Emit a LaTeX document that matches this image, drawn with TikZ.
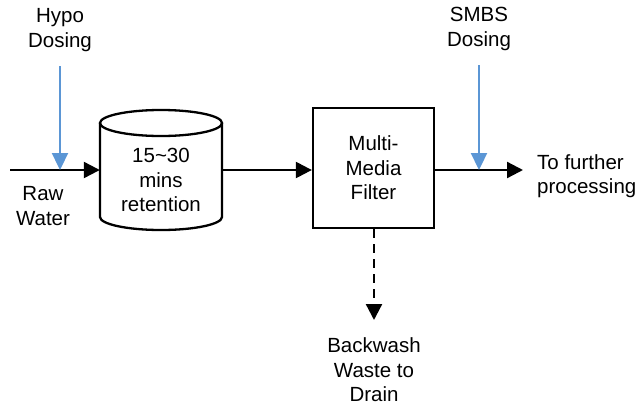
\documentclass[tikz,border=0pt]{standalone}
\usepackage{fontspec}
\setmainfont{Liberation Sans}
\usetikzlibrary{arrows.meta}
\definecolor{dosingblue}{RGB}{91,150,213}
\begin{document}
\begin{tikzpicture}[x=1pt,y=-1pt,
  flow/.style={line width=2.3pt,-{Triangle[length=16pt,width=16pt]}},
  dose/.style={draw=dosingblue,line width=2.3pt,-{Triangle[length=17pt,width=16pt]}},
  lbl/.style={font=\fontsize{20.5}{24.5}\selectfont,align=center,inner sep=0pt},
  unitbox/.style={draw,line width=2.3pt,minimum width=121pt,minimum height=120pt,inner sep=0pt}]
\useasboundingbox (0,0) rectangle (644,407);

% retention tank (cylinder) outline
\node[minimum width=122pt,minimum height=120pt,inner sep=0pt] (cyl) at (161,170) {};
\draw[line width=2.3pt] (161,123) ellipse [x radius=61pt, y radius=13pt];
\draw[line width=2.3pt] (100,123) -- (100,217)
  arc[start angle=180,end angle=360,x radius=61pt,y radius=13pt] -- (222,123);
\node[lbl] (cyltxt) at (161,180) {15\textasciitilde30\\mins\\retention};

% multi-media filter
\node[unitbox,lbl] (mmf) at (373.5,168) {Multi-\\Media\\Filter};

% labels
\node[lbl] (hypo) at (60,30) {Hypo\\Dosing};
\node[lbl] (smbs) at (479,29) {SMBS\\Dosing};
\node[lbl] (raw) at (43,206) {Raw\\Water};
\node[lbl,align=left,anchor=west] (further) at (537,176) {To further\\processing};
\node[lbl] (drain) at (374,370) {Backwash\\Waste to\\Drain};

% free ends of the connectors
\coordinate (rawin) at (10,170);
\coordinate (outend) at (523,170);
\coordinate (drainend) at (374,320);
\coordinate (hypotop) at (60,66);
\coordinate (hypojoin) at (60,170);
\coordinate (smbstop) at (479,65);
\coordinate (smbsjoin) at (479,170);

% process flow
\draw[flow] (rawin) -- (cyl.west);
\draw[flow] (cyl.east) -- (cyl.east -| mmf.west);
\draw[flow] (mmf.east |- outend) -- (outend);
\draw[flow,dash pattern=on 9pt off 6pt] (mmf.south -| drainend) -- (drainend);

% chemical dosing
\draw[dose] (hypotop) -- (hypojoin);
\draw[dose] (smbstop) -- (smbsjoin);
\end{tikzpicture}
\end{document}
